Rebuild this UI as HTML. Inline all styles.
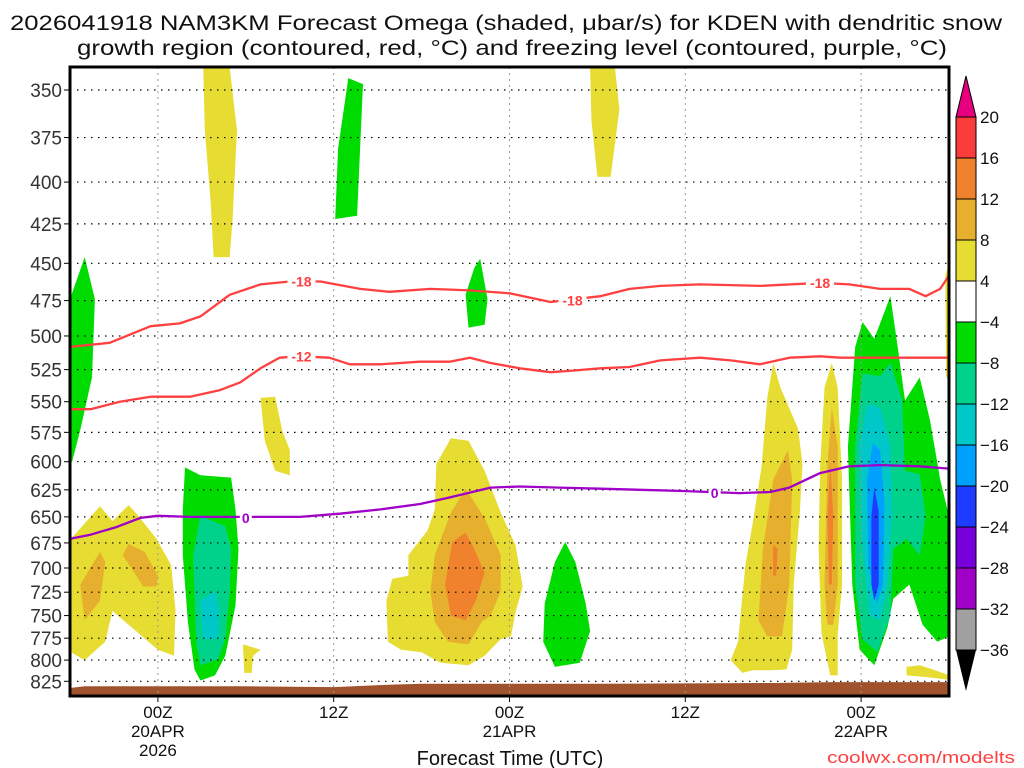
<!DOCTYPE html>
<html><head><meta charset="utf-8"><style>
html,body{margin:0;padding:0;background:#fff;width:1024px;height:768px;overflow:hidden}
svg{display:block;font-family:"Liberation Sans Narrow","Liberation Sans",sans-serif}
</style></head><body>
<svg id="chart" width="1024" height="768" xmlns="http://www.w3.org/2000/svg">
<text x="506" y="30" text-anchor="middle" font-size="21" fill="#111" textLength="992" lengthAdjust="spacingAndGlyphs">2026041918 NAM3KM Forecast Omega (shaded, μbar/s) for KDEN with dendritic snow</text>
<text x="512" y="55" text-anchor="middle" font-size="21" fill="#111" textLength="870" lengthAdjust="spacingAndGlyphs">growth region (contoured, red, °C) and freezing level (contoured, purple, °C)</text>
<g id="plot"></g>
<g id="yaxis"></g>
<g id="xaxis"></g>
<g id="cbar"></g>
<text x="510" y="765" text-anchor="middle" font-size="20" fill="#111">Forecast Time (UTC)</text>
<text x="1015" y="763" text-anchor="end" font-size="17" fill="#ff4040" textLength="188" lengthAdjust="spacingAndGlyphs">coolwx.com/modelts</text>
</svg>
<script>
// ---- data ----
const pressureTicks=[350,375,400,425,450,475,500,525,550,575,600,625,650,675,700,725,750,775,800,825];
const timeTickHours=[6,18,30,42,54];
const timeTickLabels=[["00Z","20APR","2026"],["12Z"],["00Z","21APR"],["12Z"],["00Z","22APR"]];
const cbarLevels=[20,16,12,8,4,-4,-8,-12,-16,-20,-24,-28,-32,-36];
const cbarColors=["#fa3c3c","#f0822d","#e6af2d","#e6dc32","#ffffff","#00dc00","#00d28c","#00c8c8","#00a0ff","#1e3cff","#7800dc","#a000c8","#a0a0a0"];
// shaded omega regions: level index into cbarColors, vertices [hour, hPa]
const omegaRegions=[
 {lvl:5,pts:[[0,474],[1.0,446],[1.7,474],[1.5,531],[0.7,573],[0.14,600],[0,600]]},
 {lvl:3,pts:[[9.1,339],[10.9,339],[11.4,371],[11.1,422],[10.9,446],[9.8,446],[9.6,411],[9.2,371]]},
 {lvl:5,pts:[[19.0,344],[20.0,347],[19.8,381],[19.6,420],[18.1,422],[18.3,381]]},
 {lvl:3,pts:[[35.5,339],[37.2,339],[37.5,360],[36.9,397],[36.0,397],[35.6,366]]},
 {lvl:5,pts:[[28.0,447],[28.5,474],[28.3,492],[27.2,494],[27.0,471],[27.6,453]]},
 {lvl:3,pts:[[13.0,547],[14.0,546],[14.5,574],[15.0,590],[15.0,612],[14.0,608],[13.3,582]]},
 {lvl:3,pts:[[0.07,671],[2.05,640],[2.9,654],[4.0,639],[4.6,648],[5.9,671],[6.9,697],[7.2,744],[7.1,795],[6.0,788],[4.0,760],[2.9,745],[2.4,779],[1.0,800],[0.07,791]]},
 {lvl:2,pts:[[0.7,717],[2.05,684],[2.4,694],[2.05,734],[1.0,755]]},
 {lvl:2,pts:[[3.6,687],[4.0,676],[5.1,684],[6.0,708],[5.9,719],[5.0,719]]},
 {lvl:5,pts:[[7.85,605],[8.9,612],[11.0,614],[11.3,643],[11.5,681],[11.3,739],[10.6,795],[9.9,818],[8.9,824],[8.5,811],[8.05,757],[7.7,687],[7.7,643]]},
 {lvl:6,pts:[[8.9,649],[10.6,659],[11.0,681],[10.9,724],[10.6,776],[10.1,799],[8.9,806],[8.6,776],[8.4,687]]},
 {lvl:7,pts:[[8.9,734],[9.9,724],[10.2,744],[10.1,776],[9.1,776]]},
 {lvl:3,pts:[[11.8,782],[13.0,788],[12.5,795],[12.4,815],[11.9,815]]},
 {lvl:3,pts:[[25.0,602],[26.0,580],[27.2,582],[28.3,608],[29.4,646],[30.4,677],[30.9,719],[30.4,747],[30.1,773],[29.4,776],[28.3,795],[27.2,806],[25.3,803],[24.0,791],[22.6,788],[21.7,779],[21.6,734],[22.0,711],[23.1,708],[23.1,687],[24.4,663],[24.9,643]]},
 {lvl:2,pts:[[26.0,646],[27.0,624],[28.3,651],[29.4,687],[29.4,724],[28.7,750],[28.1,757],[27.2,782],[25.8,779],[24.9,757],[24.6,724],[24.9,687]]},
 {lvl:1,pts:[[26.1,674],[27.0,665],[27.6,681],[28.3,705],[27.7,734],[27.0,755],[26.0,750],[25.6,717]]},
 {lvl:5,pts:[[33.8,674],[34.5,694],[35.2,737],[35.5,767],[34.8,803],[33.1,808],[32.3,779],[32.4,737],[33.1,694]]},
 {lvl:3,pts:[[48.0,520],[48.5,539],[49.7,572],[50.0,602],[49.8,649],[49.4,717],[49.3,788],[48.9,811],[47.8,812],[46.6,812],[45.9,815],[45.1,800],[45.6,779],[46.1,697],[46.6,656],[47.2,605],[47.6,547]]},
 {lvl:2,pts:[[49.0,590],[49.3,616],[49.1,717],[48.6,773],[47.6,773],[47.0,755],[47.3,681],[48.0,616]]},
 {lvl:1,pts:[[48.0,677],[48.3,681],[48.2,708],[48.0,708]]},
 {lvl:3,pts:[[52.0,520],[52.4,539],[52.7,616],[52.7,717],[52.4,770],[52.4,818],[51.9,818],[51.3,770],[51.1,681],[51.2,605],[51.5,539]]},
 {lvl:2,pts:[[52.0,555],[52.4,587],[52.4,717],[52.1,760],[51.7,760],[51.5,717],[51.7,602]]},
 {lvl:1,pts:[[51.9,602],[52.1,649],[52.0,717],[51.8,717],[51.7,649]]},
 {lvl:5,pts:[[54.1,490],[54.9,502],[56.0,472],[56.5,508],[57.0,549],[58.0,531],[58.7,565],[59.4,616],[60,649],[60,773],[59.2,779],[58.2,760],[57.3,717],[56.2,732],[55.8,763],[54.9,806],[53.9,788],[53.4,717],[53.1,587],[53.6,508]]},
 {lvl:6,pts:[[54.1,528],[55.3,530],[56.0,520],[56.8,549],[57.0,608],[58.0,611],[58.4,649],[58.0,687],[57.1,671],[56.2,681],[56.0,750],[55.1,791],[54.1,776],[53.6,717],[53.6,587]]},
 {lvl:7,pts:[[54.4,552],[55.3,555],[56.0,587],[56.1,649],[55.8,717],[55.3,755],[54.6,750],[54.1,681],[53.9,587]]},
 {lvl:8,pts:[[54.8,584],[55.3,590],[55.6,637],[55.5,717],[55.1,737],[54.5,697],[54.4,616]]},
 {lvl:9,pts:[[54.9,623],[55.2,645],[55.2,717],[54.9,734],[54.7,717],[54.7,649]]},
 {lvl:3,pts:[[57.1,808],[58.0,806],[58.9,811],[59.9,817],[59.9,823],[58.5,820],[57.1,818]]},
 {lvl:3,pts:[[59.75,458],[60,450],[60,535],[59.8,530]]}
];
const surfHours=[0,1,12,18,22,24,36,48,52,60];
const surfPres=[833,831,831,832,829,828,828,827,826,826];
const m18Hours=[0,2.7,5.5,7.5,8.9,10.9,13,15,17.1,19.8,21.8,24.6,27.3,30,32.8,36.2,38.2,40.3,43,47.1,51.2,53.2,55.3,57.3,58.4,59.4,60];
const m18Pres=[508,505,493,491,486,471,464,462,462,467,469,467,468,470,476,472,467,465,464,465,463,464,467,467,472,467,458];
const m12Hours=[0,1.4,3.4,5.5,8.2,10.2,11.6,13,14.3,15.7,17.7,19.1,21.2,23.9,25.9,27.3,28.7,30.7,32.8,34.1,36.2,38.2,40.3,43,45.1,47.1,49.1,51.2,52.6,55.3,60];
const m12Pres=[556,556,550,546,546,541,535,524,516,515,516,521,521,519,519,516,520,524,527,526,524,523,518,516,518,521,516,515,516,516,516];
const zeroHours=[0,1.4,3.1,4.8,6,8.2,10.9,13,15.7,18.4,21.2,23.9,25.9,28.7,30.7,33.4,36.2,38.9,41.6,45.7,47.8,49.1,51.2,53.2,55.3,58,60];
const zeroPres=[671,667,660,651,649,650,650,650,650,647,643,638,632,623,622,623,624,625,626,628,627,623,610,604,603,604,606];
const contourLabels=[["-18",15.8,462],["-18",34.3,475],["-18",51.2,463],["-12",15.8,515],["0",12.0,651],["0",44.0,628]];

// ---- axes ----
const X0=70,X1=949,Y0=67,Y1=696,H0=0,H1=60;
const yRef=90,pRef=350,yScale=689.6;
function xs(h){return X0+(h-H0)/(H1-H0)*(X1-X0);}
function ys(p){return yRef+Math.log(p/pRef)*yScale;}
const NS="http://www.w3.org/2000/svg";
function mk(tag,attrs,parent){const e=document.createElementNS(NS,tag);for(const k in attrs)e.setAttribute(k,attrs[k]);parent.appendChild(e);return e;}
const plot=document.getElementById('plot'),yax=document.getElementById('yaxis'),xax=document.getElementById('xaxis'),cb=document.getElementById('cbar');
const cp=mk('clipPath',{id:'clip'},plot);
mk('rect',{x:X0,y:Y0,width:X1-X0,height:Y1-Y0},cp);
const g=mk('g',{'clip-path':'url(#clip)'},plot);

omegaRegions.forEach((r,i)=>{
 const pg=mk('polygon',{points:r.pts.map(q=>xs(q[0]).toFixed(1)+','+ys(q[1]).toFixed(1)).join(' '),fill:cbarColors[r.lvl]},g);
 
 
});
// terrain
let tp='M'+xs(surfHours[0])+','+Y1;
surfHours.forEach((h,i)=>{tp+=' L'+xs(h).toFixed(1)+','+ys(surfPres[i]).toFixed(1);});
tp+=' L'+xs(surfHours[surfHours.length-1])+','+Y1+' Z';
const ter=mk('path',{d:tp,fill:'#a0522d'},g);


// grid
pressureTicks.forEach(p=>{
 const l=mk('line',{x1:X0,x2:X1,y1:ys(p),y2:ys(p),stroke:'#000','stroke-width':1.2,'stroke-dasharray':'1.5,5.5'},g);
 
 
});
timeTickHours.forEach(h=>{
 const l=mk('line',{x1:xs(h),x2:xs(h),y1:Y0,y2:Y1,stroke:'#999','stroke-width':1,'stroke-dasharray':'2,4'},g);
 
 
});
// contours
function line(hs,ps,color,name){
 const d=hs.map((h,i)=>(i?'L':'M')+xs(h).toFixed(1)+','+ys(ps[i]).toFixed(1)).join(' ');
 const e=mk('path',{d:d,fill:'none',stroke:color,'stroke-width':2.3,'stroke-linejoin':'round'},g);
 
 
}
line(m18Hours,m18Pres,'#ff4040','contour-minus18');
line(m12Hours,m12Pres,'#ff4040','contour-minus12');
line(zeroHours,zeroPres,'#a000c8','freezing-level-contour');
contourLabels.forEach(c=>{
 const col=c[0]==='0'?'#a000c8':'#ff4040';
 const w=c[0].length*8+4;
 mk('rect',{x:xs(c[1])-w/2,y:ys(c[2])-7,width:w,height:14,fill:'#fff'},g);
 const t=mk('text',{x:xs(c[1]),y:ys(c[2])+5,'text-anchor':'middle','font-size':14,'font-weight':'bold',fill:col},g);
 t.textContent=c[0];
 
 
});
const fr=mk('rect',{x:X0,y:Y0,width:X1-X0,height:Y1-Y0,fill:'none',stroke:'#000','stroke-width':3},plot);


// y axis
pressureTicks.forEach(p=>{
 mk('line',{x1:X0-6,x2:X0,y1:ys(p),y2:ys(p),stroke:'#000','stroke-width':1},yax);
 const t=mk('text',{x:62,y:ys(p)+7,'text-anchor':'end','font-size':19,fill:'#333'},yax);
 t.textContent=p;
 
 
});
// x axis
timeTickHours.forEach((h,i)=>{
 mk('line',{x1:xs(h),x2:xs(h),y1:Y1,y2:Y1+6,stroke:'#000','stroke-width':1},xax);
 timeTickLabels[i].forEach((s,j)=>{
  const t=mk('text',{x:xs(h),y:718+j*19,'text-anchor':'middle','font-size':17,fill:'#111'},xax);
  t.textContent=s;
  
  
 });
});
// colorbar
const CX=956,CW=20,CT=117,CB=650,bh=(CB-CT)/cbarColors.length;
mk('polygon',{points:`${CX},${CT} ${CX+CW},${CT} ${CX+CW/2},76`,fill:'#e6007f',stroke:'#000','stroke-width':1},cb);
cbarColors.forEach((c,i)=>{
 const r=mk('rect',{x:CX,y:CT+i*bh,width:CW,height:bh,fill:c,stroke:'#000','stroke-width':1},cb);
 
 
});
mk('polygon',{points:`${CX},${CB} ${CX+CW},${CB} ${CX+CW/2},691`,fill:'#000'},cb);
cbarLevels.forEach((v,i)=>{
 const t=mk('text',{x:980,y:CT+i*bh+6,'font-size':17,fill:'#111'},cb);
 t.textContent=v<0?'\u2212'+(-v):v;
 
 
});
</script>
</body></html>
